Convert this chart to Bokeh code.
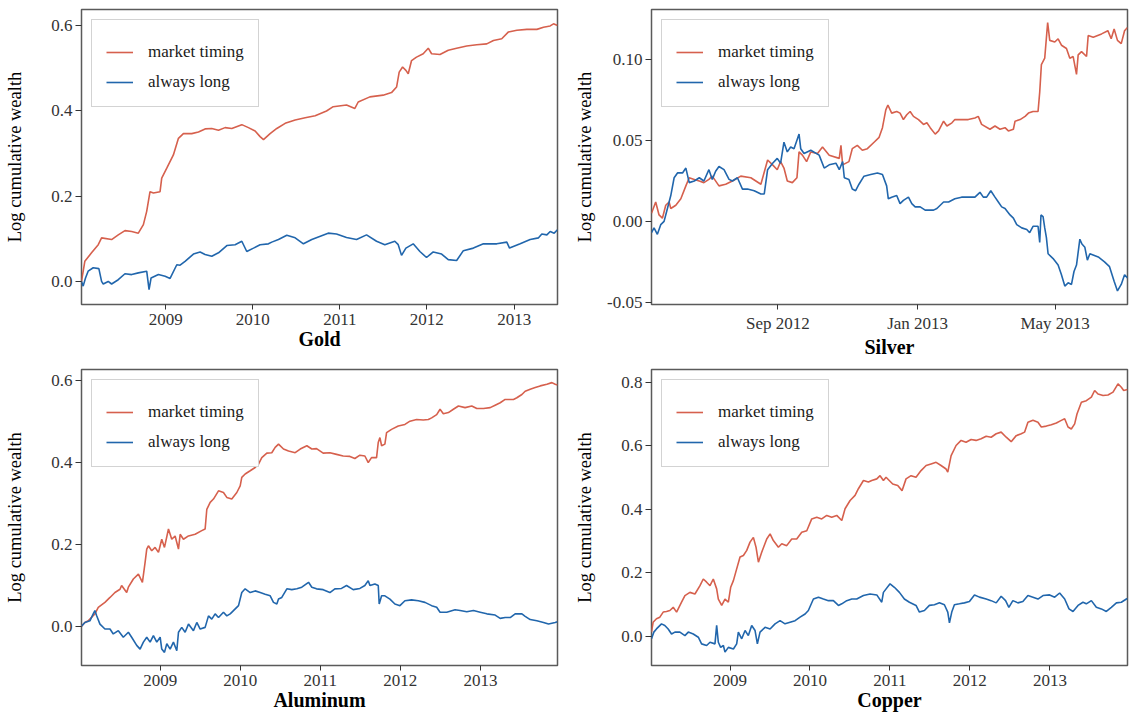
from datetime import datetime

from bokeh.embed import file_html
from bokeh.layouts import column, row
from bokeh.models import (CustomJSTickFormatter, FixedTicker, Legend, LegendItem,
                          NumeralTickFormatter, Range1d)
from bokeh.plotting import figure
from bokeh.resources import INLINE

# ---------------------------------------------------------------------------
# Strategy names and colours
# ---------------------------------------------------------------------------
series_names = ["market timing", "always long"]
series_colors = ["#D6604D", "#2166AC"]

# ---------------------------------------------------------------------------
# Log cumulative wealth (dates as decimal years)
# ---------------------------------------------------------------------------
gold_timing_t = [
    2008.035, 2008.073, 2008.150, 2008.227, 2008.265, 2008.380, 2008.456, 2008.533, 2008.610, 2008.686,
    2008.744, 2008.782, 2008.820, 2008.859, 2008.935, 2008.954, 2009.012, 2009.088, 2009.146, 2009.203,
    2009.299, 2009.376, 2009.452, 2009.529, 2009.606, 2009.682, 2009.759, 2009.874, 2009.950, 2010.027,
    2010.084, 2010.123, 2010.199, 2010.276, 2010.372, 2010.487, 2010.602, 2010.717, 2010.847, 2010.924,
    2011.077, 2011.173, 2011.211, 2011.345, 2011.498, 2011.594, 2011.652, 2011.682, 2011.721, 2011.759,
    2011.786, 2011.824, 2011.881, 2011.958, 2012.016, 2012.054, 2012.150, 2012.245, 2012.341, 2012.456,
    2012.571, 2012.686, 2012.763, 2012.858, 2012.935, 2013.031, 2013.146, 2013.261, 2013.337, 2013.414,
    2013.452, 2013.498]
gold_timing_v = [
    0.001, 0.048, 0.068, 0.087, 0.103, 0.099, 0.110, 0.120, 0.118, 0.114,
    0.134, 0.165, 0.211, 0.208, 0.211, 0.243, 0.266, 0.297, 0.336, 0.347,
    0.347, 0.351, 0.358, 0.359, 0.355, 0.361, 0.359, 0.368, 0.361, 0.353,
    0.340, 0.333, 0.347, 0.359, 0.371, 0.379, 0.384, 0.389, 0.400, 0.410,
    0.414, 0.406, 0.421, 0.433, 0.437, 0.443, 0.456, 0.491, 0.503, 0.495,
    0.487, 0.518, 0.526, 0.534, 0.547, 0.534, 0.532, 0.542, 0.547, 0.552,
    0.555, 0.557, 0.565, 0.569, 0.585, 0.589, 0.591, 0.591, 0.596, 0.599,
    0.604, 0.600]
gold_long_t = [
    2008.035, 2008.054, 2008.081, 2008.111, 2008.169, 2008.234, 2008.265, 2008.284, 2008.341, 2008.380,
    2008.456, 2008.533, 2008.610, 2008.686, 2008.782, 2008.809, 2008.832, 2008.916, 2008.993, 2009.050,
    2009.127, 2009.165, 2009.222, 2009.318, 2009.395, 2009.452, 2009.529, 2009.606, 2009.702, 2009.797,
    2009.874, 2009.931, 2010.008, 2010.084, 2010.180, 2010.218, 2010.295, 2010.391, 2010.487, 2010.582,
    2010.678, 2010.866, 2010.962, 2011.077, 2011.192, 2011.307, 2011.422, 2011.517, 2011.632, 2011.671,
    2011.709, 2011.759, 2011.843, 2011.920, 2011.996, 2012.073, 2012.169, 2012.245, 2012.341, 2012.418,
    2012.533, 2012.648, 2012.801, 2012.916, 2012.947, 2013.069, 2013.184, 2013.280, 2013.318, 2013.376,
    2013.414, 2013.460, 2013.498]
gold_long_v = [
    0.001, -0.010, 0.009, 0.025, 0.033, 0.031, 0.001, -0.005, 0.001, -0.005,
    0.005, 0.019, 0.017, 0.021, 0.025, -0.018, 0.009, 0.017, 0.013, 0.008,
    0.040, 0.039, 0.048, 0.065, 0.070, 0.064, 0.060, 0.068, 0.085, 0.087,
    0.095, 0.071, 0.079, 0.087, 0.089, 0.093, 0.099, 0.109, 0.103, 0.089,
    0.099, 0.114, 0.112, 0.104, 0.099, 0.110, 0.095, 0.087, 0.095, 0.087,
    0.062, 0.079, 0.089, 0.071, 0.057, 0.070, 0.065, 0.052, 0.050, 0.073,
    0.079, 0.089, 0.089, 0.093, 0.079, 0.089, 0.099, 0.103, 0.112, 0.110,
    0.118, 0.114, 0.122]

silver_timing_t = [
    2012.365, 2012.375, 2012.383, 2012.391, 2012.399, 2012.407, 2012.411, 2012.423, 2012.435, 2012.447,
    2012.455, 2012.467, 2012.479, 2012.490, 2012.502, 2012.510, 2012.526, 2012.542, 2012.558, 2012.578,
    2012.602, 2012.626, 2012.642, 2012.654, 2012.665, 2012.673, 2012.681, 2012.689, 2012.701, 2012.712,
    2012.717, 2012.725, 2012.735, 2012.745, 2012.761, 2012.773, 2012.789, 2012.813, 2012.817, 2012.821,
    2012.836, 2012.844, 2012.856, 2012.868, 2012.880, 2012.896, 2012.908, 2012.916, 2012.924, 2012.929,
    2012.938, 2012.950, 2012.958, 2012.966, 2012.974, 2012.982, 2012.990, 2013.002, 2013.014, 2013.022,
    2013.030, 2013.042, 2013.050, 2013.062, 2013.070, 2013.082, 2013.089, 2013.105, 2013.121, 2013.137,
    2013.145, 2013.153, 2013.173, 2013.185, 2013.197, 2013.209, 2013.217, 2013.229, 2013.233, 2013.245,
    2013.257, 2013.265, 2013.276, 2013.288, 2013.292, 2013.296, 2013.304, 2013.311, 2013.316, 2013.328,
    2013.336, 2013.344, 2013.356, 2013.364, 2013.372, 2013.380, 2013.384, 2013.392, 2013.404, 2013.408,
    2013.420, 2013.440, 2013.455, 2013.463, 2013.470, 2013.478, 2013.487, 2013.495, 2013.502]
silver_timing_v = [
    0.005, 0.012, 0.004, 0.002, 0.010, 0.012, 0.008, 0.010, 0.014, 0.022,
    0.027, 0.026, 0.025, 0.024, 0.026, 0.028, 0.022, 0.023, 0.025, 0.028,
    0.027, 0.023, 0.038, 0.035, 0.032, 0.037, 0.033, 0.025, 0.024, 0.027,
    0.043, 0.041, 0.037, 0.043, 0.042, 0.046, 0.041, 0.039, 0.047, 0.035,
    0.037, 0.045, 0.047, 0.044, 0.045, 0.049, 0.052, 0.058, 0.069, 0.072,
    0.067, 0.068, 0.067, 0.063, 0.066, 0.068, 0.065, 0.063, 0.060, 0.061,
    0.058, 0.054, 0.056, 0.062, 0.059, 0.061, 0.063, 0.063, 0.063, 0.064,
    0.065, 0.060, 0.057, 0.059, 0.057, 0.058, 0.056, 0.057, 0.062, 0.063,
    0.065, 0.067, 0.068, 0.068, 0.080, 0.097, 0.101, 0.123, 0.112, 0.111,
    0.113, 0.109, 0.107, 0.101, 0.102, 0.091, 0.103, 0.105, 0.102, 0.115,
    0.114, 0.116, 0.118, 0.113, 0.119, 0.112, 0.110, 0.118, 0.120]
silver_long_t = [
    2012.365, 2012.371, 2012.379, 2012.387, 2012.395, 2012.403, 2012.411, 2012.419, 2012.427, 2012.439,
    2012.447, 2012.455, 2012.467, 2012.479, 2012.490, 2012.502, 2012.510, 2012.518, 2012.526, 2012.538,
    2012.550, 2012.558, 2012.570, 2012.582, 2012.594, 2012.610, 2012.626, 2012.634, 2012.642, 2012.654,
    2012.665, 2012.673, 2012.681, 2012.689, 2012.697, 2012.705, 2012.713, 2012.717, 2012.721, 2012.729,
    2012.745, 2012.765, 2012.777, 2012.789, 2012.805, 2012.813, 2012.821, 2012.825, 2012.836, 2012.844,
    2012.852, 2012.860, 2012.872, 2012.888, 2012.904, 2012.916, 2012.926, 2012.930, 2012.938, 2012.950,
    2012.958, 2012.966, 2012.978, 2012.986, 2012.994, 2013.006, 2013.018, 2013.030, 2013.038, 2013.046,
    2013.054, 2013.062, 2013.074, 2013.089, 2013.105, 2013.121, 2013.137, 2013.149, 2013.157, 2013.165,
    2013.175, 2013.185, 2013.193, 2013.201, 2013.209, 2013.221, 2013.229, 2013.237, 2013.249, 2013.261,
    2013.268, 2013.276, 2013.288, 2013.292, 2013.295, 2013.300, 2013.304, 2013.308, 2013.312, 2013.324,
    2013.336, 2013.344, 2013.352, 2013.360, 2013.368, 2013.374, 2013.380, 2013.388, 2013.393, 2013.400,
    2013.406, 2013.412, 2013.432, 2013.447, 2013.459, 2013.470, 2013.478, 2013.487, 2013.495, 2013.502]
silver_long_v = [
    -0.007, -0.004, -0.008, -0.002, 0.000, 0.008, 0.016, 0.027, 0.030, 0.030,
    0.033, 0.024, 0.025, 0.027, 0.025, 0.032, 0.026, 0.031, 0.034, 0.032,
    0.026, 0.025, 0.027, 0.020, 0.020, 0.019, 0.017, 0.017, 0.032, 0.036,
    0.039, 0.036, 0.049, 0.043, 0.046, 0.045, 0.051, 0.054, 0.045, 0.042,
    0.044, 0.041, 0.033, 0.035, 0.036, 0.032, 0.037, 0.027, 0.026, 0.020,
    0.019, 0.023, 0.028, 0.029, 0.030, 0.029, 0.022, 0.014, 0.015, 0.016,
    0.011, 0.013, 0.015, 0.011, 0.009, 0.009, 0.007, 0.007, 0.007, 0.008,
    0.010, 0.012, 0.012, 0.014, 0.015, 0.015, 0.015, 0.018, 0.015, 0.015,
    0.019, 0.015, 0.012, 0.009, 0.008, 0.004, 0.002, -0.002, -0.004, -0.005,
    -0.007, -0.003, -0.003, -0.013, 0.004, 0.003, -0.004, -0.010, -0.020, -0.023,
    -0.027, -0.033, -0.040, -0.038, -0.039, -0.031, -0.027, -0.011, -0.014, -0.016,
    -0.024, -0.020, -0.022, -0.025, -0.028, -0.037, -0.043, -0.039, -0.033, -0.035]

aluminum_timing_t = [
    2008.020, 2008.062, 2008.104, 2008.187, 2008.229, 2008.270, 2008.312, 2008.375, 2008.437, 2008.500,
    2008.520, 2008.583, 2008.604, 2008.666, 2008.729, 2008.779, 2008.812, 2008.833, 2008.854, 2008.895,
    2008.937, 2008.979, 2009.000, 2009.020, 2009.054, 2009.104, 2009.145, 2009.187, 2009.229, 2009.250,
    2009.291, 2009.354, 2009.437, 2009.520, 2009.562, 2009.583, 2009.625, 2009.666, 2009.729, 2009.791,
    2009.833, 2009.895, 2009.958, 2010.000, 2010.020, 2010.062, 2010.125, 2010.187, 2010.229, 2010.270,
    2010.333, 2010.395, 2010.437, 2010.479, 2010.541, 2010.604, 2010.687, 2010.750, 2010.833, 2010.895,
    2010.954, 2011.037, 2011.121, 2011.204, 2011.287, 2011.371, 2011.433, 2011.496, 2011.558, 2011.600,
    2011.641, 2011.704, 2011.725, 2011.746, 2011.767, 2011.808, 2011.829, 2011.891, 2011.975, 2012.058,
    2012.121, 2012.204, 2012.287, 2012.350, 2012.391, 2012.454, 2012.496, 2012.537, 2012.600, 2012.662,
    2012.725, 2012.808, 2012.891, 2012.954, 2013.037, 2013.121, 2013.183, 2013.246, 2013.308, 2013.412,
    2013.454, 2013.517, 2013.558, 2013.621, 2013.683, 2013.746, 2013.829, 2013.892, 2013.933, 2013.962]
aluminum_timing_v = [
    0.002, 0.011, 0.015, 0.032, 0.048, 0.054, 0.060, 0.072, 0.084, 0.092,
    0.101, 0.084, 0.097, 0.117, 0.129, 0.109, 0.157, 0.190, 0.198, 0.186,
    0.194, 0.182, 0.198, 0.214, 0.194, 0.239, 0.214, 0.222, 0.190, 0.226,
    0.214, 0.222, 0.226, 0.235, 0.239, 0.287, 0.304, 0.312, 0.332, 0.328,
    0.316, 0.312, 0.328, 0.344, 0.365, 0.373, 0.381, 0.389, 0.397, 0.413,
    0.424, 0.425, 0.438, 0.446, 0.434, 0.429, 0.425, 0.434, 0.442, 0.434,
    0.435, 0.424, 0.425, 0.421, 0.417, 0.416, 0.411, 0.419, 0.417, 0.401,
    0.413, 0.413, 0.450, 0.462, 0.442, 0.446, 0.474, 0.482, 0.490, 0.494,
    0.502, 0.506, 0.505, 0.506, 0.510, 0.518, 0.531, 0.520, 0.523, 0.531,
    0.539, 0.535, 0.539, 0.533, 0.533, 0.535, 0.541, 0.547, 0.555, 0.555,
    0.559, 0.567, 0.575, 0.580, 0.584, 0.588, 0.592, 0.596, 0.592, 0.590]
aluminum_long_t = [
    2008.020, 2008.062, 2008.125, 2008.166, 2008.187, 2008.208, 2008.250, 2008.312, 2008.375, 2008.416,
    2008.479, 2008.541, 2008.604, 2008.645, 2008.708, 2008.750, 2008.791, 2008.833, 2008.875, 2008.916,
    2008.958, 2009.000, 2009.020, 2009.054, 2009.083, 2009.125, 2009.166, 2009.208, 2009.229, 2009.270,
    2009.312, 2009.354, 2009.416, 2009.458, 2009.500, 2009.562, 2009.604, 2009.645, 2009.687, 2009.729,
    2009.791, 2009.833, 2009.875, 2009.916, 2009.979, 2010.020, 2010.062, 2010.125, 2010.187, 2010.250,
    2010.312, 2010.375, 2010.416, 2010.458, 2010.479, 2010.520, 2010.583, 2010.645, 2010.708, 2010.770,
    2010.854, 2010.895, 2010.954, 2011.037, 2011.121, 2011.183, 2011.266, 2011.329, 2011.412, 2011.496,
    2011.558, 2011.600, 2011.621, 2011.683, 2011.725, 2011.737, 2011.767, 2011.808, 2011.871, 2011.933,
    2011.996, 2012.058, 2012.141, 2012.225, 2012.308, 2012.391, 2012.454, 2012.496, 2012.579, 2012.683,
    2012.746, 2012.829, 2012.912, 2012.996, 2013.079, 2013.183, 2013.246, 2013.308, 2013.371, 2013.433,
    2013.517, 2013.558, 2013.621, 2013.704, 2013.787, 2013.850, 2013.933, 2013.962]
aluminum_long_v = [
    0.002, 0.011, 0.015, 0.032, 0.040, 0.028, 0.007, -0.005, -0.005, -0.017,
    -0.009, -0.025, -0.013, -0.025, -0.045, -0.054, -0.037, -0.025, -0.037, -0.021,
    -0.037, -0.025, -0.054, -0.062, -0.041, -0.054, -0.037, -0.058, -0.013, -0.001,
    -0.013, 0.007, -0.009, 0.011, -0.005, -0.001, 0.027, 0.019, 0.032, 0.023,
    0.036, 0.027, 0.032, 0.040, 0.052, 0.084, 0.093, 0.084, 0.088, 0.084,
    0.080, 0.076, 0.060, 0.056, 0.068, 0.072, 0.093, 0.091, 0.093, 0.097,
    0.109, 0.097, 0.093, 0.091, 0.084, 0.093, 0.094, 0.101, 0.091, 0.094,
    0.101, 0.113, 0.101, 0.105, 0.101, 0.056, 0.076, 0.076, 0.068, 0.056,
    0.052, 0.064, 0.066, 0.064, 0.060, 0.052, 0.048, 0.036, 0.036, 0.042,
    0.040, 0.037, 0.040, 0.036, 0.032, 0.029, 0.021, 0.023, 0.023, 0.032,
    0.032, 0.026, 0.018, 0.015, 0.011, 0.007, 0.011, 0.013]

copper_timing_t = [
    2008.020, 2008.040, 2008.082, 2008.124, 2008.166, 2008.207, 2008.249, 2008.291, 2008.333, 2008.395,
    2008.437, 2008.499, 2008.562, 2008.625, 2008.666, 2008.708, 2008.750, 2008.791, 2008.833, 2008.854,
    2008.896, 2008.937, 2008.979, 2009.008, 2009.042, 2009.083, 2009.125, 2009.167, 2009.209, 2009.250,
    2009.292, 2009.325, 2009.355, 2009.396, 2009.459, 2009.501, 2009.542, 2009.605, 2009.647, 2009.709,
    2009.772, 2009.834, 2009.897, 2009.960, 2010.022, 2010.085, 2010.147, 2010.210, 2010.272, 2010.335,
    2010.398, 2010.439, 2010.502, 2010.564, 2010.606, 2010.669, 2010.731, 2010.773, 2010.836, 2010.877,
    2010.919, 2010.952, 2011.035, 2011.098, 2011.152, 2011.202, 2011.265, 2011.327, 2011.390, 2011.453,
    2011.515, 2011.578, 2011.640, 2011.703, 2011.724, 2011.766, 2011.828, 2011.891, 2011.953, 2012.016,
    2012.078, 2012.141, 2012.204, 2012.266, 2012.329, 2012.391, 2012.454, 2012.516, 2012.579, 2012.642,
    2012.683, 2012.725, 2012.788, 2012.850, 2012.892, 2012.955, 2013.017, 2013.080, 2013.142, 2013.184,
    2013.226, 2013.267, 2013.309, 2013.338, 2013.393, 2013.455, 2013.518, 2013.559, 2013.601, 2013.664,
    2013.726, 2013.789, 2013.851, 2013.893, 2013.922, 2013.970]
copper_timing_v = [
    0.014, 0.045, 0.056, 0.061, 0.077, 0.079, 0.082, 0.092, 0.077, 0.108,
    0.129, 0.139, 0.134, 0.160, 0.181, 0.171, 0.160, 0.181, 0.150, 0.118,
    0.098, 0.118, 0.108, 0.155, 0.176, 0.213, 0.250, 0.255, 0.271, 0.297,
    0.312, 0.281, 0.234, 0.265, 0.307, 0.323, 0.302, 0.281, 0.292, 0.286,
    0.307, 0.307, 0.328, 0.333, 0.370, 0.375, 0.370, 0.381, 0.375, 0.381,
    0.365, 0.402, 0.428, 0.444, 0.465, 0.491, 0.486, 0.491, 0.496, 0.506,
    0.491, 0.501, 0.480, 0.475, 0.459, 0.496, 0.506, 0.501, 0.522, 0.538,
    0.543, 0.548, 0.538, 0.527, 0.517, 0.569, 0.601, 0.617, 0.611, 0.620,
    0.617, 0.622, 0.630, 0.627, 0.638, 0.643, 0.627, 0.613, 0.632, 0.638,
    0.643, 0.674, 0.680, 0.674, 0.659, 0.662, 0.666, 0.672, 0.680, 0.685,
    0.659, 0.653, 0.669, 0.700, 0.737, 0.742, 0.753, 0.774, 0.763, 0.758,
    0.760, 0.769, 0.795, 0.784, 0.774, 0.777]
copper_long_t = [
    2008.020, 2008.049, 2008.082, 2008.145, 2008.186, 2008.228, 2008.270, 2008.312, 2008.374, 2008.437,
    2008.479, 2008.541, 2008.604, 2008.645, 2008.708, 2008.750, 2008.812, 2008.833, 2008.854, 2008.883,
    2008.917, 2008.937, 2008.979, 2009.042, 2009.083, 2009.104, 2009.146, 2009.188, 2009.229, 2009.271,
    2009.313, 2009.342, 2009.375, 2009.438, 2009.501, 2009.563, 2009.626, 2009.688, 2009.751, 2009.814,
    2009.876, 2009.939, 2009.980, 2010.043, 2010.106, 2010.168, 2010.231, 2010.293, 2010.356, 2010.398,
    2010.460, 2010.523, 2010.585, 2010.669, 2010.752, 2010.836, 2010.898, 2010.919, 2011.002, 2011.056,
    2011.119, 2011.181, 2011.244, 2011.327, 2011.369, 2011.432, 2011.494, 2011.557, 2011.620, 2011.682,
    2011.724, 2011.745, 2011.774, 2011.807, 2011.870, 2011.932, 2011.995, 2012.058, 2012.120, 2012.204,
    2012.266, 2012.329, 2012.391, 2012.446, 2012.487, 2012.537, 2012.600, 2012.662, 2012.725, 2012.788,
    2012.850, 2012.913, 2012.996, 2013.059, 2013.121, 2013.184, 2013.238, 2013.288, 2013.351, 2013.413,
    2013.455, 2013.518, 2013.580, 2013.643, 2013.705, 2013.768, 2013.831, 2013.893, 2013.956, 2013.970]
copper_long_v = [
    -0.007, 0.014, 0.024, 0.040, 0.035, 0.024, 0.008, 0.014, 0.014, 0.003,
    0.014, 0.008, -0.002, -0.023, -0.028, -0.018, -0.023, 0.035, -0.018, -0.034,
    -0.028, -0.049, -0.034, -0.039, -0.023, 0.014, -0.007, 0.019, 0.003, 0.035,
    0.019, -0.023, 0.014, 0.029, 0.024, 0.040, 0.050, 0.040, 0.045, 0.050,
    0.061, 0.071, 0.082, 0.118, 0.124, 0.118, 0.113, 0.113, 0.098, 0.103,
    0.113, 0.118, 0.118, 0.129, 0.134, 0.131, 0.108, 0.139, 0.166, 0.155,
    0.139, 0.118, 0.108, 0.098, 0.077, 0.082, 0.098, 0.100, 0.106, 0.100,
    0.077, 0.043, 0.077, 0.100, 0.103, 0.106, 0.110, 0.131, 0.124, 0.118,
    0.113, 0.106, 0.127, 0.113, 0.092, 0.113, 0.106, 0.110, 0.129, 0.124,
    0.118, 0.129, 0.131, 0.124, 0.137, 0.118, 0.087, 0.079, 0.098, 0.108,
    0.103, 0.113, 0.092, 0.087, 0.079, 0.092, 0.106, 0.108, 0.118, 0.120]

# Axis ticks
year_tick_dates = ["2009-01-01", "2010-01-01", "2011-01-01", "2012-01-01", "2013-01-01"]
year_tick_labels = ["2009", "2010", "2011", "2012", "2013"]
silver_tick_dates = ["2012-09-01", "2013-01-01", "2013-05-01"]
silver_tick_labels = ["Sep 2012", "Jan 2013", "May 2013"]
wealth_ticks_gold = [0.0, 0.2, 0.4, 0.6]
wealth_ticks_silver = [-0.05, 0.0, 0.05, 0.10]
wealth_ticks_aluminum = [0.0, 0.2, 0.4, 0.6]
wealth_ticks_copper = [0.0, 0.2, 0.4, 0.6, 0.8]

SERIF = "Liberation Serif"
EPOCH = datetime(1970, 1, 1)


def decimal_year_ms(y):
    yr = int(y)
    start, end = datetime(yr, 1, 1), datetime(yr + 1, 1, 1)
    moment = start + (end - start) * (y - yr)
    return (moment - EPOCH).total_seconds() * 1000.0


def iso_ms(s):
    return (datetime.fromisoformat(s) - EPOCH).total_seconds() * 1000.0


def panel(name, timing_t, timing_v, long_t, long_v, y_lo, y_hi, y_ticks, y_fmt,
          tick_dates, tick_labels, width, height, left, right, bottom, ylab_standoff):
    xt = [decimal_year_ms(t) for t in timing_t]
    xl = [decimal_year_ms(t) for t in long_t]
    x_lo, x_hi = min(xt[0], xl[0]), max(xt[-1], xl[-1])

    p = figure(width=width, height=height, output_backend="svg", toolbar_location=None,
               tools="", x_range=Range1d(x_lo, x_hi), y_range=Range1d(y_lo, y_hi),
               min_border_left=left, min_border_right=right, min_border_top=9,
               min_border_bottom=bottom)
    p.background_fill_color = "white"
    p.border_fill_color = "white"
    p.outline_line_color = "#5a5a5a"
    p.outline_line_width = 1.5
    p.grid.visible = False

    r_timing = p.line(xt, timing_v, line_color=series_colors[0], line_width=1.6)
    r_long = p.line(xl, long_v, line_color=series_colors[1], line_width=1.6)

    tick_ms = [iso_ms(d) for d in tick_dates]
    p.xaxis.ticker = FixedTicker(ticks=tick_ms)
    p.xaxis.formatter = CustomJSTickFormatter(
        args=dict(pos=tick_ms, labels=tick_labels),
        code="""
        let best = 0;
        for (let i = 1; i < pos.length; i++) {
            if (Math.abs(pos[i] - tick) < Math.abs(pos[best] - tick)) best = i;
        }
        return labels[best];
        """)
    p.yaxis.ticker = FixedTicker(ticks=y_ticks)
    p.yaxis.formatter = NumeralTickFormatter(format=y_fmt)

    for ax in (p.xaxis[0], p.yaxis[0]):
        ax.axis_line_color = None
        ax.major_tick_line_color = "#333333"
        ax.major_tick_line_width = 1
        ax.major_tick_in = 0
        ax.minor_tick_line_color = None
        ax.major_label_text_font = SERIF
        ax.major_label_text_font_size = "17px"
        ax.major_label_text_color = "#333333"

    p.xaxis.major_tick_out = 5
    p.xaxis.major_label_standoff = 4
    p.xaxis.axis_label = name
    p.xaxis.axis_label_text_font = SERIF
    p.xaxis.axis_label_text_font_size = "20px"
    p.xaxis.axis_label_text_font_style = "bold"
    p.xaxis.axis_label_text_color = "black"
    p.xaxis.axis_label_standoff = 0

    p.yaxis.major_tick_out = 6
    p.yaxis.major_label_standoff = 3
    p.yaxis.axis_label = "Log cumulative wealth"
    p.yaxis.axis_label_text_font = SERIF
    p.yaxis.axis_label_text_font_size = "18.5px"
    p.yaxis.axis_label_text_font_style = "normal"
    p.yaxis.axis_label_text_color = "black"
    p.yaxis.axis_label_standoff = ylab_standoff

    legend = Legend(
        items=[LegendItem(label=series_names[0], renderers=[r_timing]),
               LegendItem(label=series_names[1], renderers=[r_long])],
        location="top_left", margin=10, padding=14, spacing=10,
        glyph_width=27, glyph_height=20, label_height=20, label_standoff=15,
        label_text_font=SERIF, label_text_font_size="17px", label_text_color="#1a1a1a",
        border_line_color="#a8a8a8", border_line_width=1,
        background_fill_color="white", background_fill_alpha=1.0,
        title=" ", title_text_font_size="6px", title_standoff=2)
    p.add_layout(legend)
    return p


p_gold = panel("Gold", gold_timing_t, gold_timing_v, gold_long_t, gold_long_v,
               -0.053, 0.6375, wealth_ticks_gold, "0.0",
               year_tick_dates, year_tick_labels, 565, 360, 81, 8, 55, 23)
p_silver = panel("Silver", silver_timing_t, silver_timing_v, silver_long_t, silver_long_v,
                 -0.0514, 0.1311, wealth_ticks_silver, "0.00",
                 silver_tick_dates, silver_tick_labels, 564, 360, 86, 2, 55, 9)
p_alu = panel("Aluminum", aluminum_timing_t, aluminum_timing_v, aluminum_long_t, aluminum_long_v,
              -0.094, 0.628, wealth_ticks_aluminum, "0.0",
              year_tick_dates, year_tick_labels, 565, 356, 81, 8, 51, 23)
p_copper = panel("Copper", copper_timing_t, copper_timing_v, copper_long_t, copper_long_v,
                 -0.091, 0.84, wealth_ticks_copper, "0.0",
                 year_tick_dates, year_tick_labels, 564, 356, 86, 2, 51, 23)

layout = column(row(p_gold, p_silver), row(p_alu, p_copper))

with open("out.html", "w") as f:
    f.write(file_html(layout, INLINE, title="Log cumulative wealth"))
